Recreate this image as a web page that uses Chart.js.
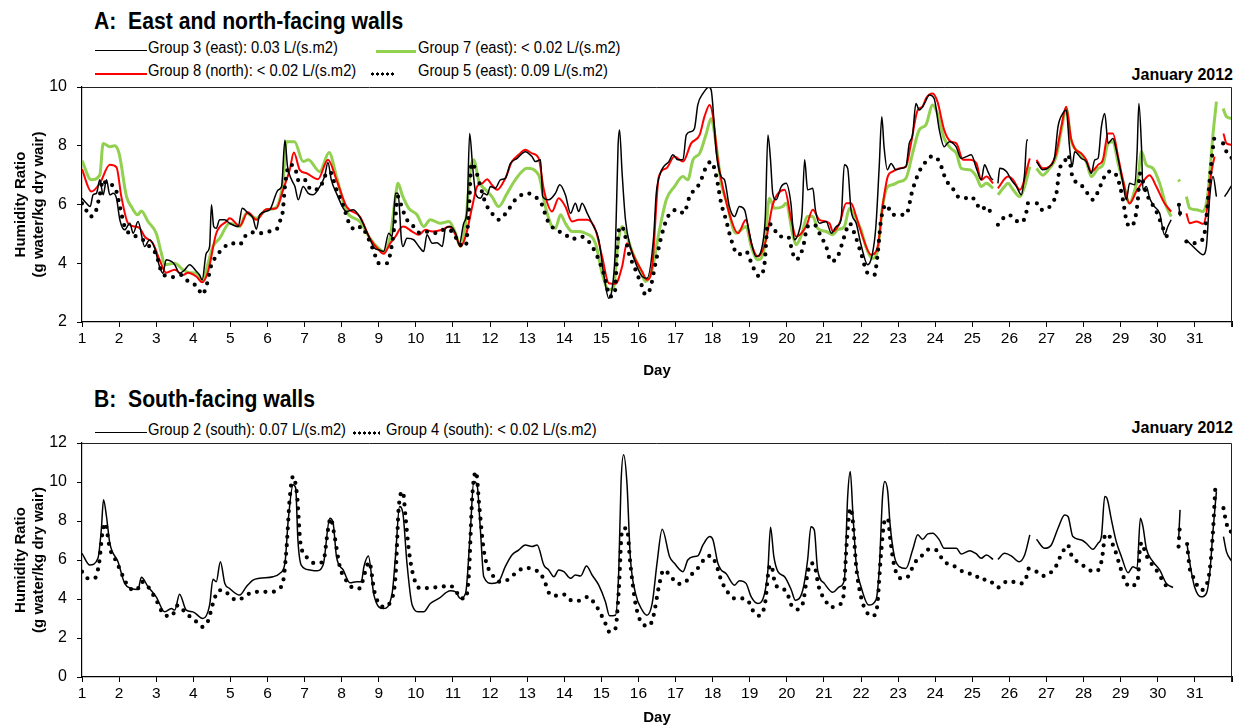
<!DOCTYPE html>
<html>
<head>
<meta charset="utf-8">
<script src="https://cdn.jsdelivr.net/npm/chart.js@4.4.1/dist/chart.umd.min.js"></script>
<style>
body{margin:0;background:#fff;width:1242px;height:727px;position:relative;overflow:hidden;
  font-family:'Liberation Sans',Arial,sans-serif;color:#000;}
canvas{position:absolute;left:0;}
.ttl{position:absolute;left:94px;font-weight:bold;font-size:23px;line-height:24px;white-space:nowrap;
  transform:scaleX(0.92);transform-origin:0 0;}
.month{position:absolute;right:9px;font-weight:bold;font-size:16px;line-height:16px;}
.lt{position:absolute;font-size:16px;line-height:16px;white-space:nowrap;transform:scaleX(0.92);transform-origin:0 0;}
.ls{position:absolute;height:0;}
.dots{position:absolute;height:6px;background-image:radial-gradient(circle,#000 1.4px,transparent 1.8px);background-size:5px 6px;}
</style>
</head>
<body>
<div class="ttl" style="top:9px">A:&nbsp; East and north-facing walls</div>
<div class="month" style="top:67px">January 2012</div>
<div id="legA"></div>
<canvas id="cA" width="1242" height="380" style="top:0"></canvas>

<div class="ttl" style="top:387px">B:&nbsp; South-facing walls</div>
<div class="month" style="top:420px">January 2012</div>
<div id="legB"></div>
<canvas id="cB" width="1242" height="347" style="top:380px"></canvas>

<script>
// series values: [day, humidity ratio], null = missing data
var g3 = [[1,6.21],[1.12,6.04],[1.22,5.93],[1.3,6.33],[1.39,6.38],[1.48,6.84],[1.57,6.33],[1.66,6.84],[1.75,6.33],[1.84,6.38],[1.93,6.21],[2.02,5.48],[2.15,5.14],[2.29,5.36],[2.38,5.02],[2.51,5.42],[2.69,4.57],[2.82,4.8],[2.96,4.51],[3.09,3.89],[3.18,3.66],[3.27,4.12],[3.41,4.06],[3.5,3.95],[3.63,3.66],[3.77,3.78],[3.9,3.95],[4.08,3.73],[4.17,3.6],[4.24,3.43],[4.35,4.34],[4.44,4.57],[4.49,5.99],[4.55,5.25],[4.62,5.19],[4.71,5.48],[4.85,5.48],[4.98,5.36],[5.21,5.25],[5.32,5.87],[5.48,5.7],[5.61,5.53],[5.7,5.16],[5.79,5.65],[6.06,5.82],[6.29,6.5],[6.38,6.61],[6.47,8.2],[6.54,7.29],[6.65,6.84],[6.74,6.61],[6.83,6.16],[6.96,6.61],[7.1,6.38],[7.23,6.33],[7.41,6.61],[7.54,6.95],[7.63,7.43],[7.72,6.84],[7.86,6.38],[8.13,5.76],[8.31,5.82],[8.53,5.48],[8.71,4.97],[8.89,4.51],[9,4.46],[9.13,4.4],[9.27,5.02],[9.36,4.91],[9.45,6.38],[9.52,6.38],[9.61,4.8],[9.65,4.57],[9.76,4.85],[9.94,4.8],[10.08,4.57],[10.21,4.4],[10.3,4.97],[10.44,4.68],[10.57,4.7],[10.71,4.57],[10.8,5.19],[10.93,5.25],[11.07,5.02],[11.17,4.63],[11.29,5.36],[11.38,5.82],[11.45,8.42],[11.53,7.29],[11.62,6.33],[11.74,6.21],[11.83,6.38],[11.92,6.33],[12.01,6.61],[12.14,6.55],[12.28,6.84],[12.41,6.89],[12.55,7.4],[12.73,7.57],[12.95,7.8],[13.13,7.63],[13.22,7.46],[13.36,7.52],[13.42,6.27],[13.58,6.16],[13.76,6.38],[13.88,6.67],[14.03,6.33],[14.17,5.7],[14.3,6.04],[14.39,5.76],[14.48,6.04],[14.62,5.7],[14.75,5.36],[14.93,4.8],[15.06,3.66],[15.2,2.81],[15.27,2.98],[15.38,4.57],[15.45,7.97],[15.49,8.54],[15.56,7.06],[15.65,5.48],[15.78,4.57],[15.96,3.89],[16.1,3.55],[16.23,3.49],[16.41,4.91],[16.48,6.38],[16.59,7.06],[16.68,7.29],[16.82,7.46],[16.93,7.69],[17.06,7.52],[17.2,7.52],[17.29,8.37],[17.42,8.48],[17.51,8.59],[17.6,9.39],[17.74,9.78],[17.9,9.99],[17.96,9.9],[18.1,7.74],[18.23,6.95],[18.32,6.84],[18.45,5.93],[18.59,5.59],[18.72,5.93],[18.86,5.82],[18.99,5.02],[19.17,4.23],[19.35,4.68],[19.42,5.59],[19.49,8.37],[19.56,7.52],[19.62,6.38],[19.71,6.16],[19.85,6.61],[19.98,6.72],[20.11,6.04],[20.2,4.8],[20.34,5.14],[20.41,5.7],[20.48,7.52],[20.56,6.5],[20.7,6.55],[20.77,5.82],[20.88,5.36],[21.06,5.42],[21.2,5.02],[21.33,5.25],[21.46,5.48],[21.55,7.35],[21.64,7.23],[21.73,5.82],[21.87,5.36],[22,4.63],[22.18,3.95],[22.31,4.34],[22.4,5.25],[22.49,7.29],[22.56,8.99],[22.62,7.97],[22.71,7.18],[22.81,7.4],[22.94,7.18],[23.08,7.23],[23.21,7.29],[23.3,8.08],[23.39,8.37],[23.48,9.44],[23.57,9.22],[23.71,9.44],[23.84,9.73],[23.97,9.61],[24.11,8.54],[24.24,7.97],[24.38,8.14],[24.56,7.97],[24.7,7.57],[24.84,7.63],[24.97,7.69],[25.11,7.23],[25.24,6.84],[25.33,7.35],[25.42,7.12],[25.51,6.89],[25.56,6.84],[25.62,null],[25.69,6.72],[25.74,7.23],[25.92,7.12],[26.05,6.84],[26.19,6.61],[26.32,6.33],[26.41,7.06],[26.47,8.2],[26.5,8.2],[26.64,null],[26.73,7.46],[26.9,7.18],[27.08,7.29],[27.22,7.63],[27.31,8.65],[27.44,9.1],[27.53,9.22],[27.62,7.97],[27.69,7.29],[27.76,7.8],[27.94,7.57],[28.07,7.46],[28.21,7.06],[28.3,7.52],[28.39,7.57],[28.48,8.65],[28.57,9.1],[28.66,8.08],[28.79,8.25],[28.88,7.86],[29.06,6.72],[29.15,6.16],[29.24,6.72],[29.38,6.67],[29.44,7.74],[29.49,9.44],[29.56,7.97],[29.6,6.5],[29.69,6.61],[29.78,6.21],[29.91,5.93],[30.05,5.7],[30.18,4.97],[30.27,5.25],[30.36,5.48],[30.45,null],[30.57,5.93],[30.6,5.6],[30.68,null],[30.77,4.8],[30.9,4.63],[31.04,4.46],[31.22,4.29],[31.31,4.57],[31.4,6.27],[31.49,6.95],[31.58,6.27],[31.68,null],[31.8,6.27],[31.89,6.44],[32,6.67]];

var g7 = [[1,7.49],[1.25,6.84],[1.48,7],[1.57,8.08],[1.75,7.97],[1.88,8],[2,7.74],[2.2,6.27],[2.33,5.93],[2.5,5.65],[2.6,5.78],[2.78,5.42],[3,5.02],[3.14,4.34],[3.23,3.95],[3.5,4],[3.72,3.78],[3.9,3.68],[4.08,3.66],[4.24,3.38],[4.35,3.78],[4.53,4.57],[4.71,4.85],[4.98,5.36],[5.25,5.25],[5.43,5.7],[5.7,5.53],[5.97,5.82],[6.2,5.87],[6.33,6.16],[6.42,6.78],[6.51,8.14],[6.73,8.14],[6.96,7.46],[7.1,7.52],[7.41,7.12],[7.66,7.77],[7.86,6.95],[8.13,5.76],[8.49,5.42],[8.76,4.85],[9,4.51],[9.13,4.4],[9.31,4.91],[9.45,6.27],[9.52,6.72],[9.63,6.33],[9.81,5.87],[10.03,5.65],[10.21,5.25],[10.39,5.48],[10.66,5.36],[10.89,5.42],[11.07,5.02],[11.2,4.57],[11.34,5.36],[11.47,7.18],[11.56,7.52],[11.7,6.78],[11.88,6.5],[12.05,6.27],[12.23,5.93],[12.46,6.38],[12.68,6.84],[13,7.23],[13.31,7],[13.49,5.93],[13.67,5.25],[13.76,5.19],[13.9,5.65],[14.03,5.36],[14.21,5.08],[14.39,5.08],[14.57,5.02],[14.84,4.68],[15.02,3.66],[15.2,3.1],[15.33,3.15],[15.42,4.34],[15.56,5.25],[15.69,4.91],[15.83,4.4],[16.05,3.78],[16.19,3.38],[16.37,3.78],[16.55,5.02],[16.75,6.16],[16.97,6.61],[17.2,6.95],[17.33,6.84],[17.47,7.52],[17.65,7.74],[17.83,8.42],[17.96,8.93],[18.1,7.97],[18.23,6.72],[18.36,6.16],[18.63,5.02],[18.77,5.14],[18.9,5.25],[19.04,4.57],[19.22,4.12],[19.4,4.57],[19.53,6.21],[19.67,5.87],[19.89,5.93],[19.98,6.04],[20.16,4.97],[20.25,4.63],[20.38,4.91],[20.56,5.59],[20.7,5.59],[20.83,5.19],[21.06,5.08],[21.24,4.97],[21.37,5.14],[21.55,5.25],[21.69,5.87],[21.82,5.59],[22,5.14],[22.13,4.57],[22.31,4.17],[22.45,4.46],[22.58,5.93],[22.72,6.61],[22.85,6.67],[23.03,6.78],[23.21,6.89],[23.39,7.74],[23.57,8.54],[23.75,8.71],[23.93,9.39],[24.06,9.1],[24.24,8.25],[24.42,7.91],[24.57,7.74],[24.7,7.23],[24.93,7.18],[25.11,6.95],[25.24,6.61],[25.38,6.72],[25.56,6.55],[25.62,null],[25.69,6.33],[25.87,6.61],[25.96,6.72],[26.1,6.5],[26.28,6.27],[26.41,6.61],[26.55,7.29],[26.64,null],[26.73,7.23],[26.9,7],[27.08,7.23],[27.26,7.63],[27.4,8.54],[27.53,9.27],[27.66,8.2],[27.76,7.91],[27.94,7.69],[28.07,7.46],[28.21,6.95],[28.39,7.23],[28.52,7.35],[28.66,8.08],[28.79,8.14],[28.93,7.4],[29.06,6.78],[29.24,6.04],[29.38,6.5],[29.47,6.95],[29.56,7.8],[29.69,7.35],[29.87,7.23],[30.05,6.72],[30.23,5.93],[30.36,5.59],[30.45,null],[30.56,6.85],[30.59,6.78],[30.66,null],[30.77,6.27],[30.86,5.87],[31.04,5.82],[31.22,5.76],[31.35,6.38],[31.49,8.42],[31.58,9.5],[31.67,null],[31.76,9.27],[31.85,8.99],[32,8.93]];

var g8 = [[1,7.2],[1.25,6.44],[1.48,6.72],[1.75,7.35],[1.93,7.27],[2.06,6.27],[2.24,5.36],[2.42,5.25],[2.56,5.19],[2.69,4.91],[2.91,4.68],[3.09,4.12],[3.27,3.68],[3.5,3.78],[3.72,3.6],[3.86,3.68],[4.08,3.55],[4.24,3.35],[4.4,3.73],[4.62,5.02],[4.89,5.42],[4.98,5.53],[5.25,5.27],[5.47,5.74],[5.7,5.48],[5.97,5.84],[6.24,5.87],[6.42,6.5],[6.6,7.18],[6.71,7.77],[6.87,7.18],[7.06,7.06],[7.36,6.86],[7.63,7.52],[7.86,6.84],[8.13,5.93],[8.49,5.59],[8.76,4.85],[9,4.45],[9.13,4.32],[9.31,4.68],[9.45,4.91],[9.58,5.19],[9.67,5.25],[9.9,5.08],[10.08,4.97],[10.26,5.14],[10.44,5.08],[10.71,5.14],[10.89,5.25],[11.07,4.97],[11.2,4.57],[11.34,4.91],[11.52,5.93],[11.65,6.61],[11.79,6.72],[11.92,6.86],[12.05,6.67],[12.19,6.5],[12.41,6.89],[12.59,7.46],[12.77,7.69],[12.95,7.86],[13.13,7.74],[13.31,7.57],[13.45,6.5],[13.67,5.76],[13.85,6.21],[14.03,5.93],[14.21,5.42],[14.39,5.48],[14.62,5.48],[14.84,5.14],[15.02,4.23],[15.2,3.32],[15.38,3.3],[15.56,3.89],[15.69,4.68],[15.92,4.12],[16.1,3.72],[16.23,3.44],[16.37,3.89],[16.55,6.95],[16.75,7.23],[16.97,7.63],[17.2,7.46],[17.42,8.08],[17.65,8.37],[17.78,8.99],[17.92,9.39],[18.01,8.99],[18.14,7.52],[18.27,6.61],[18.5,5.48],[18.68,5.02],[18.9,5.48],[19.04,4.68],[19.22,4.23],[19.44,4.8],[19.62,5.99],[19.94,6.5],[20.12,5.48],[20.25,4.91],[20.52,5.25],[20.7,5.82],[20.88,5.48],[21.15,5.36],[21.24,5.08],[21.42,5.36],[21.6,6.04],[21.73,6.04],[21.87,5.59],[22.04,4.91],[22.27,4.29],[22.45,4.57],[22.58,5.93],[22.72,6.95],[22.85,7.12],[23.03,7.23],[23.21,7.29],[23.34,8.03],[23.53,9.22],[23.66,9.33],[23.75,9.61],[23.93,9.78],[24.06,9.5],[24.24,8.54],[24.42,8.14],[24.57,8.08],[24.75,7.52],[24.93,7.52],[25.11,7.4],[25.24,6.84],[25.38,6.95],[25.56,6.72],[25.62,null],[25.69,6.55],[25.96,6.95],[26.1,6.84],[26.28,6.5],[26.55,7.57],[26.64,null],[26.73,7.52],[26.9,7.23],[27.08,7.29],[27.26,7.74],[27.4,8.65],[27.53,9.33],[27.66,8.25],[27.76,7.91],[27.94,7.74],[28.07,7.52],[28.21,7.12],[28.39,7.35],[28.52,7.52],[28.66,8.42],[28.79,8.42],[28.93,7.63],[29.06,6.84],[29.24,6.04],[29.42,6.44],[29.6,6.78],[29.78,7],[29.96,6.61],[30.18,6.04],[30.36,5.76],[30.45,null],[30.57,5.7],[30.6,5.66],[30.68,null],[30.77,5.7],[30.86,5.36],[31.04,5.42],[31.22,5.34],[31.31,5.7],[31.44,7.06],[31.53,7.63],[31.65,null],[31.77,8.42],[31.85,8.08],[32,8.03]];

var g5 = [[1,6.04],[1.12,5.79],[1.22,5.59],[1.37,5.76],[1.48,6.33],[1.57,6.84],[1.68,6.66],[1.82,6.66],[1.93,6.44],[2.02,5.93],[2.15,5.25],[2.33,4.97],[2.47,4.91],[2.64,4.8],[2.82,4.57],[3,4.29],[3.14,3.72],[3.32,3.55],[3.5,3.53],[3.68,3.6],[3.81,3.43],[3.99,3.32],[4.13,3.15],[4.24,2.93],[4.35,3.21],[4.49,3.95],[4.62,4.23],[4.8,4.51],[5.03,4.68],[5.25,4.63],[5.39,4.91],[5.57,5.05],[5.79,5.02],[6.02,5.08],[6.24,5.14],[6.33,5.42],[6.4,5.65],[6.49,6.84],[6.6,7.35],[6.73,7.29],[6.85,6.78],[7,6.84],[7.18,6.5],[7.41,6.55],[7.54,6.95],[7.68,7.12],[7.86,6.5],[8.02,6.04],[8.22,5.31],[8.4,5.14],[8.53,5.25],[8.67,4.97],[8.85,4.46],[9,4],[9.22,4],[9.36,4.68],[9.45,5.59],[9.52,6.27],[9.63,5.87],[9.76,5.48],[9.94,5.25],[10.12,5.02],[10.35,5.08],[10.57,5.02],[10.75,5.14],[10.98,5.08],[11.16,4.68],[11.34,4.57],[11.43,5.82],[11.5,7.4],[11.61,7.18],[11.74,6.61],[11.88,6.04],[12.05,5.7],[12.23,5.48],[12.46,5.76],[12.68,6.16],[13,6.38],[13.27,6.21],[13.4,5.99],[13.54,5.48],[13.76,5.14],[13.99,5.02],[14.21,4.82],[14.44,4.91],[14.66,4.74],[14.89,4.23],[15.06,3.66],[15.24,2.87],[15.36,2.98],[15.45,4.91],[15.51,5.25],[15.6,5.14],[15.74,4.34],[15.92,3.78],[16.08,3.27],[16.19,2.93],[16.32,3.15],[16.46,4],[16.64,5.02],[16.8,5.6],[17.06,5.82],[17.22,5.7],[17.38,6.27],[17.65,6.72],[17.83,7.29],[17.96,7.46],[18.1,6.95],[18.23,6.04],[18.36,5.48],[18.5,4.8],[18.68,4.29],[18.9,4.4],[19.08,3.89],[19.26,3.55],[19.4,4],[19.49,5.36],[19.62,5.25],[19.8,4.91],[20.03,4.91],[20.16,4.34],[20.25,4.12],[20.43,4.51],[20.56,5.25],[20.74,5.31],[20.92,4.91],[21.06,4.57],[21.19,4.06],[21.37,4.23],[21.55,4.91],[21.69,5.36],[21.82,5.02],[22,4.34],[22.18,3.66],[22.36,3.6],[22.45,4.34],[22.54,5.48],[22.68,5.99],[22.85,5.65],[23.03,5.65],[23.21,5.65],[23.39,6.5],[23.57,7.12],[23.75,7.46],[23.93,7.65],[24.11,7.46],[24.29,6.84],[24.47,6.55],[24.61,6.27],[24.79,6.21],[24.97,6.27],[25.11,6.04],[25.24,5.82],[25.38,5.93],[25.51,5.7],[25.6,null],[25.69,5.31],[25.83,5.53],[25.99,5.65],[26.14,5.48],[26.32,5.39],[26.44,5.65],[26.52,6.21],[26.63,null],[26.74,6.04],[26.86,5.82],[27.04,5.87],[27.17,6.1],[27.26,6.33],[27.35,7.18],[27.49,7.46],[27.58,7.69],[27.71,6.89],[27.89,6.72],[28.07,6.44],[28.25,6.16],[28.39,6.44],[28.52,6.84],[28.66,7.12],[28.79,7.12],[28.93,6.84],[29.06,6.16],[29.15,5.48],[29.24,5.25],[29.38,5.48],[29.47,6.27],[29.51,7.06],[29.69,6.38],[29.96,5.76],[30.18,5.08],[30.32,4.74],[30.45,null],[30.57,5.99],[30.6,5.7],[30.68,null],[30.77,4.74],[30.95,4.68],[31.13,4.74],[31.26,5.02],[31.4,6.84],[31.49,7.97],[31.55,8.48],[31.66,null],[31.76,8.08],[31.85,7.8],[32,7.57]];

var g2 = [[1,6.34],[1.21,5.74],[1.43,6.09],[1.52,7.54],[1.58,9.09],[1.66,8.23],[1.75,6.86],[1.97,5.91],[2.15,4.8],[2.33,4.54],[2.51,4.49],[2.6,5.11],[2.78,4.63],[3,4.11],[3.23,3.34],[3.41,3.51],[3.5,3.43],[3.63,4.25],[3.81,3.43],[3.99,3.34],[4.26,3],[4.44,3.69],[4.53,5.01],[4.62,4.89],[4.73,5.91],[4.85,4.8],[4.98,4.54],[5.25,4.2],[5.43,4.63],[5.61,4.97],[5.79,5.06],[6.15,5.14],[6.33,5.31],[6.47,5.83],[6.56,8.06],[6.69,9.86],[6.76,9.69],[6.82,7.03],[6.91,5.74],[7.14,5.49],[7.32,5.45],[7.5,5.74],[7.68,8.14],[7.77,7.89],[7.86,6.17],[8.04,5.49],[8.22,4.83],[8.4,4.89],[8.53,4.89],[8.6,5.66],[8.72,6.21],[8.87,4.2],[9.13,3.51],[9.36,4.29],[9.45,6.17],[9.56,8.74],[9.65,8.4],[9.76,5.83],[9.9,3.69],[10.08,3.34],[10.21,3.34],[10.39,3.77],[10.62,4.03],[10.93,4.42],[11.07,4.37],[11.2,4.03],[11.34,4.29],[11.47,7.54],[11.56,10.03],[11.65,9.86],[11.74,7.54],[11.83,5.14],[12.05,4.8],[12.23,4.89],[12.41,5.66],[12.59,6.26],[12.77,6.51],[12.95,6.77],[13.13,6.69],[13.27,6.77],[13.45,5.74],[13.58,5.49],[13.72,5.14],[13.85,5.49],[13.99,5.4],[14.17,5.06],[14.3,5.23],[14.44,5.18],[14.6,5.69],[14.75,5.23],[14.93,4.71],[15.11,3.86],[15.22,3.14],[15.38,3.17],[15.47,5.49],[15.53,9.94],[15.6,11.4],[15.69,9.94],[15.78,6.17],[15.92,4.29],[16.1,3.43],[16.23,3.17],[16.37,3.77],[16.5,5.83],[16.64,7.58],[16.84,6.17],[16.97,5.83],[17.2,5.4],[17.33,6],[17.47,6.17],[17.6,6.21],[17.74,6.77],[17.92,7.2],[18.01,7.03],[18.14,5.83],[18.23,5.49],[18.36,5.31],[18.59,4.71],[18.72,4.94],[18.9,4.8],[19.04,4.11],[19.22,3.77],[19.4,4.29],[19.49,5.49],[19.56,7.68],[19.65,6.17],[19.76,5.4],[19.94,5.14],[20.12,4.46],[20.23,3.94],[20.43,4.46],[20.56,6],[20.65,7.71],[20.74,7.54],[20.83,5.49],[21.01,4.8],[21.24,4.34],[21.42,4.63],[21.55,4.97],[21.64,9.26],[21.71,10.54],[21.78,8.4],[21.87,5.83],[22,4.63],[22.21,3.69],[22.4,3.94],[22.49,5.49],[22.58,9.26],[22.64,10.03],[22.72,9.51],[22.78,7.89],[22.9,6.17],[23.03,5.66],[23.21,5.57],[23.39,6.51],[23.53,7.29],[23.66,7.06],[23.8,7.34],[23.93,7.37],[24.11,7.03],[24.24,6.6],[24.42,6.6],[24.57,6.6],[24.7,6.31],[24.93,6.48],[25.11,6.31],[25.24,6.09],[25.38,6.26],[25.56,6.03],[25.62,null],[25.69,6.03],[25.87,6.34],[26.05,6.21],[26.26,5.91],[26.41,6.26],[26.55,7.29],[26.64,null],[26.73,7.06],[26.95,6.6],[27.13,6.77],[27.31,7.63],[27.49,8.31],[27.58,8.23],[27.71,7.2],[27.94,7.03],[28.07,6.86],[28.25,6.55],[28.39,6.86],[28.48,7.2],[28.57,9.26],[28.63,9.17],[28.75,8.06],[28.88,6.94],[29.02,6.17],[29.2,5.35],[29.33,5.66],[29.44,5.57],[29.53,8.14],[29.6,7.71],[29.69,6.6],[29.87,5.91],[30.05,5.49],[30.23,4.8],[30.41,4.59],[30.48,null],[30.56,7.03],[30.6,8.57],[30.7,null],[30.79,6.77],[30.88,5.66],[30.99,4.63],[31.17,4.11],[31.31,4.29],[31.4,5.31],[31.49,7.54],[31.58,9.51],[31.68,null],[31.77,7.2],[31.85,6.43],[32,5.91]];

var g4 = [[1,5.4],[1.16,5.06],[1.34,5.06],[1.46,5.83],[1.55,7.37],[1.62,7.89],[1.75,6.6],[1.93,5.91],[2.11,5.14],[2.29,4.54],[2.48,4.46],[2.6,4.89],[2.78,4.63],[3,3.94],[3.23,3.17],[3.41,3.12],[3.59,3.69],[3.77,3.34],[3.95,3.03],[4.1,2.81],[4.24,2.57],[4.4,2.88],[4.53,3.77],[4.67,4.41],[4.8,4.46],[4.98,4.18],[5.16,3.94],[5.34,4.06],[5.52,4.29],[5.7,4.37],[5.9,4.37],[6.15,4.37],[6.3,4.53],[6.42,4.89],[6.51,6.51],[6.6,9.17],[6.69,10.29],[6.8,9.26],[6.89,6.86],[7.09,6.09],[7.27,5.83],[7.5,5.91],[7.63,7.54],[7.7,8.14],[7.81,7.2],[7.95,5.66],[8.17,4.83],[8.35,4.54],[8.49,4.54],[8.62,5.31],[8.74,5.9],[8.88,4.4],[9,3.77],[9.16,3.6],[9.31,3.86],[9.45,5.14],[9.54,8.74],[9.65,9.51],[9.72,8.23],[9.81,6.51],[9.94,5.14],[10.12,4.54],[10.44,4.59],[10.71,4.63],[10.89,4.7],[11.07,4.46],[11.2,4.03],[11.34,4.03],[11.43,5.31],[11.52,9.26],[11.62,10.54],[11.71,8.74],[11.83,6.51],[11.97,5.49],[12.1,5.14],[12.23,4.89],[12.46,4.97],[12.68,5.31],[12.95,5.61],[13.18,5.49],[13.36,5.31],[13.49,4.8],[13.63,4.2],[13.81,4.17],[13.99,4.23],[14.17,3.94],[14.35,3.89],[14.53,4.06],[14.66,4.11],[14.8,3.81],[14.93,3.43],[15.11,2.74],[15.22,2.31],[15.38,2.49],[15.47,4.46],[15.56,7.54],[15.69,7.63],[15.78,5.83],[15.92,3.77],[16.1,2.74],[16.28,2.61],[16.41,3.17],[16.55,4.63],[16.68,5.49],[16.88,5.14],[17.06,4.77],[17.24,4.83],[17.42,5.23],[17.65,5.69],[17.83,6.17],[17.96,6.21],[18.1,5.74],[18.23,4.97],[18.41,4.34],[18.59,4.03],[18.77,4.03],[18.95,3.91],[19.13,3.26],[19.26,3.14],[19.42,3.86],[19.51,5.49],[19.58,5.74],[19.67,4.89],[19.8,4.54],[19.98,4.42],[20.12,3.69],[20.27,3.46],[20.43,3.77],[20.56,5.31],[20.65,5.83],[20.74,5.74],[20.86,4.63],[21.06,3.86],[21.19,3.57],[21.37,3.69],[21.51,3.94],[21.62,7.03],[21.71,8.66],[21.78,7.97],[21.87,5.66],[22,4.11],[22.15,3.34],[22.3,3.12],[22.42,3.43],[22.54,6.34],[22.63,7.97],[22.72,8.14],[22.79,7.03],[22.9,5.66],[23.08,5.06],[23.26,5.14],[23.44,5.83],[23.66,6.26],[23.84,6.55],[24.02,6.51],[24.24,5.91],[24.47,5.74],[24.66,5.49],[24.88,5.31],[25.06,5.26],[25.24,4.97],[25.38,5.01],[25.56,4.8],[25.69,4.59],[25.87,4.85],[26.05,4.92],[26.19,4.8],[26.34,4.8],[26.46,5.14],[26.52,5.57],[26.64,null],[26.73,5.4],[26.9,5.18],[27.08,5.31],[27.25,5.66],[27.35,6.09],[27.44,6.43],[27.58,6.77],[27.64,6.38],[27.76,6.03],[27.94,5.78],[28.1,5.57],[28.27,5.4],[28.43,5.57],[28.52,6.39],[28.57,7.23],[28.66,7.34],[28.75,6.94],[28.84,6.55],[28.97,5.74],[29.11,4.97],[29.24,4.63],[29.4,4.77],[29.47,5.14],[29.51,6.43],[29.58,6.89],[29.64,6.51],[29.73,6.09],[29.82,5.83],[29.96,5.49],[30.07,5.14],[30.18,4.8],[30.3,4.46],[30.45,null],[30.56,6.69],[30.6,7.97],[30.7,null],[30.79,6.82],[30.86,5.57],[30.95,5.14],[31.04,4.77],[31.17,4.46],[31.31,4.71],[31.4,5.49],[31.49,7.54],[31.55,9.69],[31.66,null],[31.77,8.66],[31.85,7.89],[31.94,7.46],[32,7.46]];

// legend labels
var labelsA = ['Group 3 (east): 0.03 L/(s.m2)', 'Group 7 (east): < 0.02 L/(s.m2)',
               'Group 8 (north): < 0.02 L/(s.m2)', 'Group 5 (east): 0.09 L/(s.m2)'];
var labelsB = ['Group 2 (south): 0.07 L/(s.m2)', 'Group 4 (south): < 0.02 L/(s.m2)'];

// axis ticks
var dayTicks = [1, 32];
var yTicksA = [2, 10, 2];
var yTicksB = [0, 12, 2];
var yTitle = ['Humidity Ratio', '(g water/kg dry wair)'];

Chart.defaults.font.family = "'Liberation Sans',Arial,sans-serif";
Chart.defaults.color = '#000';

function toXY(s){
	return s.map(function(p){ return {x: p[0], y: p[1]}; });
}

function solid(label, pts, color, w, order){
	return {label: label, data: toXY(pts), borderColor: color, borderWidth: w, pointRadius: 0,
		cubicInterpolationMode: 'monotone', spanGaps: false, order: order, borderJoinStyle: 'round'};
}
function dotted(label, pts, order){
	return {label: label, data: toXY(pts), borderColor: '#000', borderWidth: 4.2, borderDash: [0, 8.5],
		borderCapStyle: 'round', pointRadius: 0, cubicInterpolationMode: 'monotone', spanGaps: false, order: order};
}

// frame on top and right of the plot
var frame = {
	id: 'frame',
	afterDraw: function(c){
		var a = c.chartArea, x = c.ctx;
		x.save();
		x.strokeStyle = '#222';
		x.lineWidth = 1;
		x.beginPath();
		x.moveTo(a.left, a.top + 0.5);
		x.lineTo(a.right - 0.5, a.top + 0.5);
		x.lineTo(a.right - 0.5, a.bottom + 5);
		x.stroke();
		x.restore();
	}
};

function options(yt, padTop, xh){
	return {
		responsive: false,
		animation: false,
		layout: {padding: {top: padTop, right: 10, left: 12, bottom: 0}},
		plugins: {legend: {display: false}, tooltip: {enabled: false}},
		scales: {
			x: {
				type: 'linear', min: dayTicks[0], max: dayTicks[1],
				afterFit: function(s){ s.height = xh; },
				ticks: {stepSize: 1, autoSkip: false, maxRotation: 0, padding: 2, font: {size: 15.5},
					callback: function(v){ return v < dayTicks[1] ? v : ''; }},
				grid: {drawOnChartArea: false, tickLength: 5, color: '#000', lineWidth: 1},
				border: {color: '#000', width: 1.2},
				title: {display: true, text: 'Day', font: {size: 15, weight: 'bold'}, padding: {top: 0, bottom: 0}}
			},
			y: {
				min: yt[0], max: yt[1],
				afterFit: function(s){ s.width = 70; },
				ticks: {stepSize: yt[2], padding: 10, font: {size: 16}},
				grid: {drawOnChartArea: false, tickLength: 5, color: '#000', lineWidth: 1},
				border: {color: '#000', width: 1.2},
				title: {display: true, text: yTitle, font: {size: 15, weight: 'bold'}, padding: 0}
			}
		}
	};
}

new Chart(document.getElementById('cA'), {
	type: 'line',
	data: {datasets: [
		solid(labelsA[1], g7, '#92d050', 3, 4),
		solid(labelsA[2], g8, '#ff0000', 2, 3),
		solid(labelsA[0], g3, '#000000', 1.5, 2),
		dotted(labelsA[3], g5, 1)
	]},
	options: options(yTicksA, 87, 58),
	plugins: [frame]
});

new Chart(document.getElementById('cB'), {
	type: 'line',
	data: {datasets: [
		solid(labelsB[0], g2, '#000000', 1.5, 2),
		dotted(labelsB[1], g4, 1)
	]},
	options: options(yTicksB, 63, 50),
	plugins: [frame]
});

// html legend: [label, style, color, sampleLeft, sampleWidth, textLeft, lineY]
function legend(id, items){
	var box = document.getElementById(id);
	items.forEach(function(it){
		var s = document.createElement('div');
		if(it[1] == 'dots'){
			s.className = 'dots';
			s.style.cssText = 'left:' + it[3] + 'px;width:' + it[4] + 'px;top:' + (it[6] - 3) + 'px';
		} else {
			s.className = 'ls';
			s.style.cssText = 'left:' + it[3] + 'px;width:' + it[4] + 'px;top:' + (it[6] - it[1] / 2) +
				'px;border-top:' + it[1] + 'px solid ' + it[2];
		}
		box.appendChild(s);
		var t = document.createElement('div');
		t.className = 'lt';
		t.textContent = it[0];
		t.style.left = it[5] + 'px';
		t.style.top = (it[6] - 11) + 'px';
		box.appendChild(t);
	});
}
legend('legA', [
	[labelsA[0], 1.5, '#000', 95, 52, 148, 51],
	[labelsA[1], 3, '#92d050', 376, 40, 418, 51],
	[labelsA[2], 2, '#ff0000', 95, 52, 148, 74],
	[labelsA[3], 'dots', '#000', 370, 26, 418, 74]
]);
legend('legB', [
	[labelsB[0], 1.5, '#000', 95, 52, 148, 433],
	[labelsB[1], 'dots', '#000', 352, 28, 386, 433]
]);
</script>
</body>
</html>
